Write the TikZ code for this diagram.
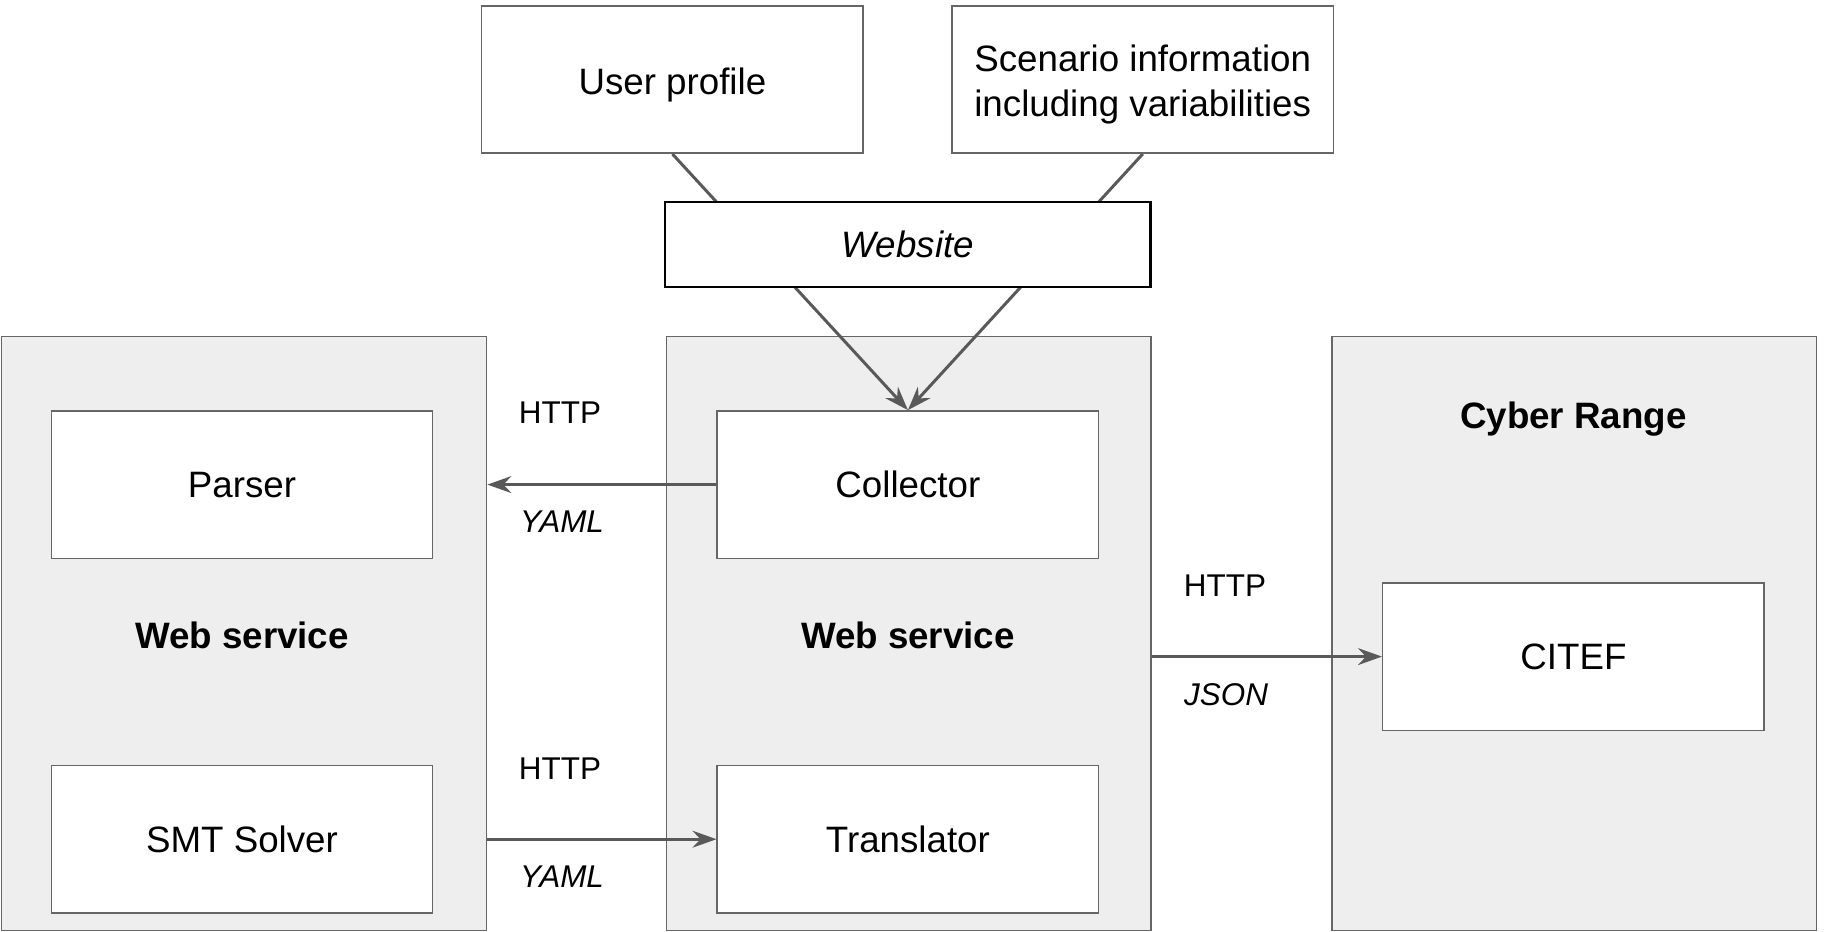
\documentclass[tikz,border=0pt]{standalone}
\usepackage{fontspec}
\setmainfont{Liberation Sans}
\usetikzlibrary{arrows.meta}
\usetikzlibrary{positioning}
\definecolor{framegray}{HTML}{666666}
\definecolor{panelgray}{HTML}{EEEEEE}
\definecolor{arrowgray}{HTML}{595959}

\begin{document}
\begin{tikzpicture}[x=0.02cm, y=-0.02cm,
    panel/.style={draw=framegray, fill=panelgray, line width=0.85pt, anchor=north west, minimum width=9.7cm, minimum height=11.88cm, inner sep=0pt},
    box/.style={draw=framegray, fill=white, line width=0.85pt, minimum width=7.63cm, minimum height=2.95cm, inner sep=0pt, align=center, font=\fontsize{20.9}{25.5}\selectfont},
    title/.style={font=\fontsize{20.9}{25}\selectfont\bfseries},
    proto/.style={font=\fontsize{17.9}{21}\selectfont},
    flow/.style={draw=arrowgray, line width=1.7pt, -{Stealth[length=13.6pt, width=9.6pt, inset=4.5pt]}}]
    \useasboundingbox (0,0) rectangle (1824,932);

    \node[panel] (wsleft) at (1,336) {};
    \node[panel] (wsmid) at (665.5,336) {};
    \node[panel] (range) at (1331,336) {};

    \node[box] (parser) at (242,484.6) {Parser};
    \node[box] (smt) at (242,839.2) {SMT Solver};
    \node[box] (collector) at (907.9,484.6) {Collector};
    \node[box] (translator) at (907.9,839.2) {Translator};
    \node[box] (citef) at (1573.4,656.6) {CITEF};
    \node[box, text height=16.9pt, text depth=0pt] (user) at (672.4,79.5) {User profile};
    \node[box, text height=41.9pt, text depth=0pt] (scenario) at (1142.7,79.5) {Scenario information\\including variabilities};

    \node[title] (lefttitle) at (242,635) {Web service};
    \node[title] (midtitle) at (907.9,635) {Web service};
    \node[title] (rangetitle) at (1573.4,419) {Cyber Range};

    \node[proto] (httpa) at (560,413) {HTTP};
    \node[proto] (yamla) at (562,522) {\itshape YAML};
    \node[proto] (httpb) at (560,769) {HTTP};
    \node[proto] (yamlb) at (562,877) {\itshape YAML};
    \node[proto] (httpc) at (1225,586) {HTTP};
    \node[proto] (jsonc) at (1226,694.5) {\itshape JSON};

    \coordinate (parserin) at (wsleft.east |- collector.west);
    \coordinate (smtout) at (wsleft.east |- smt.east);
    \coordinate (wsout) at (wsmid.east |- citef.west);

    \draw[flow] (collector) -- (parserin);
    \draw[flow] (smtout) -- (translator);
    \draw[flow] (wsout) -- (citef);
    \draw[flow] (user.south) -- (collector.north);
    \draw[flow] (scenario.south) -- (collector.north);

    \node[box, draw=black, line width=1.2pt, minimum width=9.71cm, minimum height=1.69cm, font=\fontsize{20.9}{25}\selectfont\itshape] (website) at (907.8,244.5) {Website};
\end{tikzpicture}
\end{document}
